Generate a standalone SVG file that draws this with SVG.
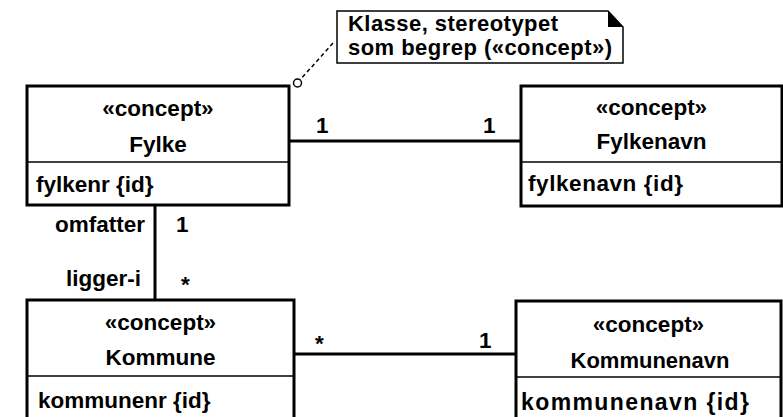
<svg xmlns="http://www.w3.org/2000/svg" width="783" height="417" viewBox="0 0 783 417">
  <style>
    text { font-family: "Liberation Sans", Arial, sans-serif; font-weight: bold; font-size: 22.5px; fill: #000; }
    .c { text-anchor: middle; }
    .e { text-anchor: end; }
    .n { font-size: 22px; }
    .box { fill: #fff; stroke: #000; stroke-width: 3; }
    .div { stroke: #000; stroke-width: 1.5; }
    .conn { stroke: #000; stroke-width: 3; fill: none; }
    .note { fill: #fff; stroke: #000; stroke-width: 1.5; }
  </style>

  <!-- associations -->
  <g id="connectors">
    <line class="conn" x1="289" y1="141" x2="521" y2="141"/>
    <line class="conn" x1="294" y1="354" x2="516" y2="354"/>
    <line class="conn" x1="155" y1="205" x2="155" y2="300"/>
    <line x1="333" y1="43" x2="300" y2="80" stroke="#000" stroke-width="1.5" stroke-dasharray="4,3"/>
    <text x="316" y="133">1</text>
    <text x="483" y="133">1</text>
    <text x="315" y="351">*</text>
    <text x="479" y="348">1</text>
    <text class="e" x="145" y="232">omfatter</text>
    <text x="176" y="232">1</text>
    <text class="e" x="141" y="286">ligger-i</text>
    <text x="181" y="292">*</text>
  </g>

  <!-- note -->
  <g id="note">
    <path class="note" d="M337,11 H608 L623,27 V63 H337 Z"/>
    <path d="M608,11 L623,27 H608 Z" fill="#000"/>
    <circle cx="297.5" cy="83" r="4" fill="#fff" stroke="#000" stroke-width="1.5"/>
    <text class="n" x="348" y="31" textLength="210" lengthAdjust="spacing">Klasse, stereotypet</text>
    <text class="n" x="348" y="55" textLength="264" lengthAdjust="spacing">som begrep («concept»)</text>
  </g>

  <g id="fylke">
    <rect class="box" x="27" y="86" width="262" height="119"/>
    <line class="div" x1="27" y1="162" x2="289" y2="162"/>
    <text class="c" x="158" y="116">«concept»</text>
    <text class="c" x="158" y="152">Fylke</text>
    <text x="36" y="192">fylkenr {id}</text>
  </g>

  <g id="fylkenavn">
    <rect class="box" x="521" y="86" width="261" height="120"/>
    <line class="div" x1="521" y1="162" x2="782" y2="162"/>
    <text class="c" x="651.5" y="115">«concept»</text>
    <text class="c" x="651.5" y="149">Fylkenavn</text>
    <text x="528" y="191" textLength="155" lengthAdjust="spacing">fylkenavn {id}</text>
  </g>

  <g id="kommune">
    <rect class="box" x="27" y="300" width="267" height="130"/>
    <line class="div" x1="27" y1="376" x2="294" y2="376"/>
    <text class="c" x="160.5" y="330">«concept»</text>
    <text class="c" x="160.5" y="365">Kommune</text>
    <text x="38" y="408">kommunenr {id}</text>
  </g>

  <g id="kommunenavn">
    <rect class="box" x="516" y="301" width="265" height="130"/>
    <line class="div" x1="516" y1="377" x2="781" y2="377"/>
    <text class="c" x="648.5" y="332">«concept»</text>
    <text class="c" x="650" y="368" style="font-size:22px">Kommunenavn</text>
    <text x="521" y="410" style="font-size:23px" textLength="228" lengthAdjust="spacing">kommunenavn {id}</text>
  </g>
</svg>
